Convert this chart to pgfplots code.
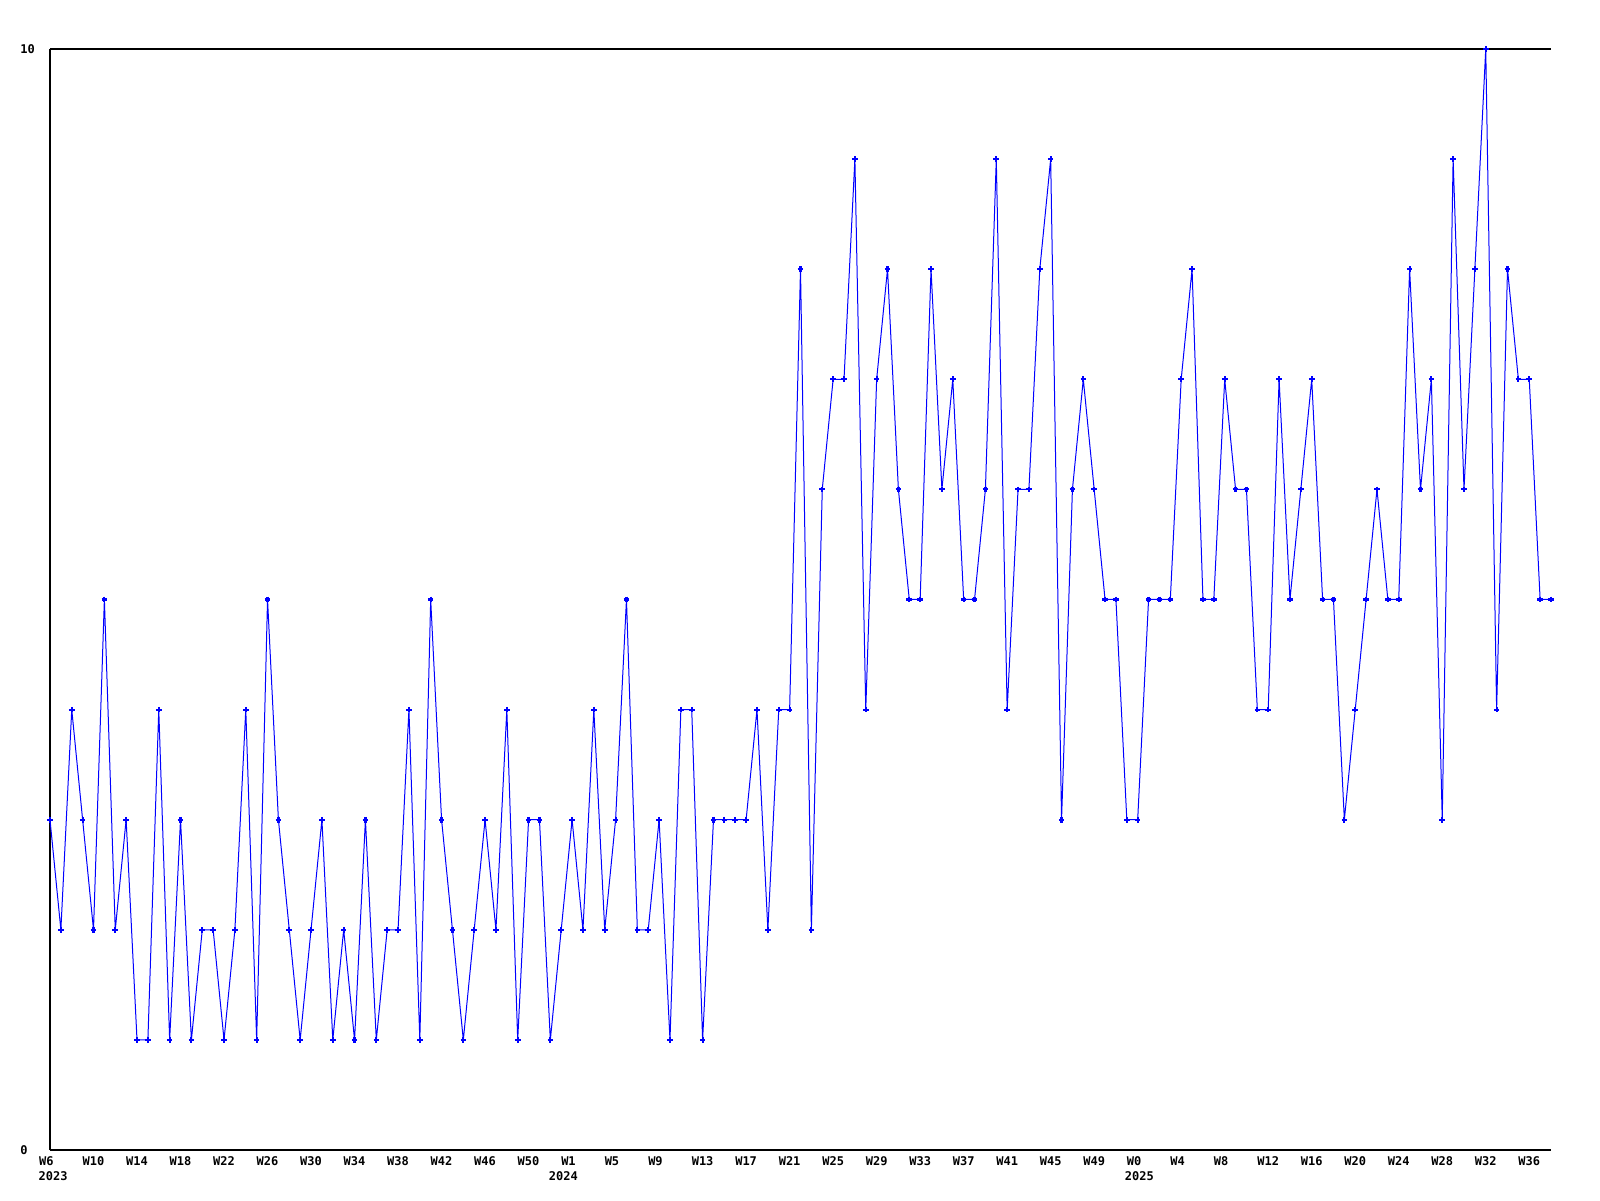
\documentclass[border=0pt]{standalone}
\usepackage{fontspec}
\usepackage{pgfplots}
\pgfplotsset{compat=1.18}
\newfontfamily\chartfont{DejaVu Sans Mono}
\definecolor{lineblue}{RGB}{0,0,255}
\begin{document}
\begin{tikzpicture}
\begin{axis}[
  at={(0,0)}, anchor=south west,
  scale only axis,
  width=750.5pt, height=550.5pt,
  xmin=0, xmax=138, ymin=0, ymax=10,
  clip=false,
  axis lines*=left,
  axis line style={black, line width=0.55pt, -},
  major tick length=0pt,
  ytick={0,10}, yticklabels={0,10},
  /pgf/number format/assume math mode=true,
  yticklabel style={font=\chartfont\bfseries\fontsize{6}{7}\selectfont, anchor=west, inner sep=0pt, xshift=-15pt},
  xtick={0,4,...,136},
  xticklabels={W6\phantom{0},W10,W14,W18,W22,W26,W30,W34,W38,W42,W46,W50,
    W1\phantom{0},W5\phantom{0},W9\phantom{0},W13,W17,W21,W25,W29,W33,W37,W41,W45,W49,
    W0\phantom{0},W4\phantom{0},W8\phantom{0},W12,W16,W20,W24,W28,W32,W36},
  xticklabel style={font=\chartfont\bfseries\fontsize{6}{7}\selectfont, anchor=north, inner sep=0pt, yshift=-3pt},
]
\addplot[color=lineblue, line width=0.5pt, mark=+, mark size=1.4pt, mark options={line width=1.1pt}] coordinates {
(0,3)(1,2)(2,4)(3,3)(4,2)(5,5)(6,2)(7,3)(8,1)(9,1)
(10,4)(11,1)(12,3)(13,1)(14,2)(15,2)(16,1)(17,2)(18,4)(19,1)
(20,5)(21,3)(22,2)(23,1)(24,2)(25,3)(26,1)(27,2)(28,1)(29,3)
(30,1)(31,2)(32,2)(33,4)(34,1)(35,5)(36,3)(37,2)(38,1)(39,2)
(40,3)(41,2)(42,4)(43,1)(44,3)(45,3)(46,1)(47,2)(48,3)(49,2)
(50,4)(51,2)(52,3)(53,5)(54,2)(55,2)(56,3)(57,1)(58,4)(59,4)
(60,1)(61,3)(62,3)(63,3)(64,3)(65,4)(66,2)(67,4)(68,4)(69,8)
(70,2)(71,6)(72,7)(73,7)(74,9)(75,4)(76,7)(77,8)(78,6)(79,5)
(80,5)(81,8)(82,6)(83,7)(84,5)(85,5)(86,6)(87,9)(88,4)(89,6)
(90,6)(91,8)(92,9)(93,3)(94,6)(95,7)(96,6)(97,5)(98,5)(99,3)
(100,3)(101,5)(102,5)(103,5)(104,7)(105,8)(106,5)(107,5)(108,7)(109,6)
(110,6)(111,4)(112,4)(113,7)(114,5)(115,6)(116,7)(117,5)(118,5)(119,3)
(120,4)(121,5)(122,6)(123,5)(124,5)(125,8)(126,6)(127,7)(128,3)(129,9)
(130,6)(131,8)(132,10)(133,4)(134,8)(135,7)(136,7)(137,5)(138,5)
};
\draw[black, line width=0.55pt] (rel axis cs:0,1) -- (rel axis cs:1,1);
\node[font=\chartfont\bfseries\fontsize{6}{7}\selectfont, anchor=north, inner sep=0pt, yshift=-10.5pt] at (axis cs:0.28,0) {2023};
\node[font=\chartfont\bfseries\fontsize{6}{7}\selectfont, anchor=north, inner sep=0pt, yshift=-10.5pt] at (axis cs:47.2,0) {2024};
\node[font=\chartfont\bfseries\fontsize{6}{7}\selectfont, anchor=north, inner sep=0pt, yshift=-10.5pt] at (axis cs:100.16,0) {2025};
\end{axis}
\path (-25pt,-25pt) rectangle (775pt,575pt);
\end{tikzpicture}
\end{document}
